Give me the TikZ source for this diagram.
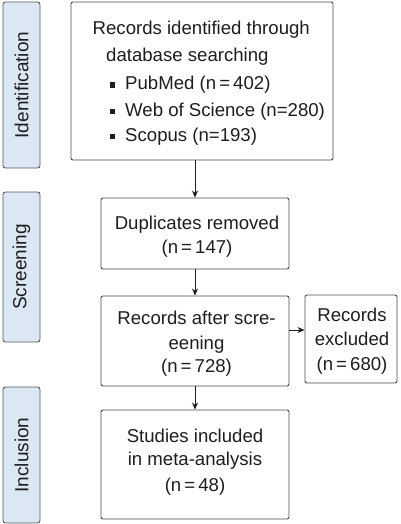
\documentclass[tikz,border=0pt]{standalone}
\usepackage{fontspec}
\setmainfont{Liberation Sans}
\usetikzlibrary{arrows.meta}
\definecolor{sideblue}{HTML}{DCE7F4}
\definecolor{ink}{HTML}{1E1E1E}
\begin{document}
\begin{tikzpicture}[x=1pt,y=-1pt,
  box/.style={draw=black!70, line width=0.9pt, rounded corners=2pt, fill=white, inner sep=0pt},
  side/.style={draw=black!65, fill=sideblue, line width=0.9pt, rounded corners=2.5pt, inner sep=0pt},
  txt/.style={font=\fontsize{18.6}{24}\selectfont, text=ink, inner sep=0pt},
  lbl/.style={font=\fontsize{19}{24}\selectfont, text=ink, inner sep=0pt},
  bul/.style={fill=ink, minimum size=5.5pt, inner sep=0pt},
  arr/.style={-{Stealth[length=7pt,width=6pt]}, line width=0.8pt, draw=ink}]
\useasboundingbox (0,0) rectangle (400,524);
% side bars
\node[side, minimum width=37pt, minimum height=166pt] (sid) at (21.5,85) {};
\node[lbl, rotate=90] (sidt) at (sid) {Identification};
\node[side, minimum width=37pt, minimum height=150pt] (scr) at (21.5,267) {};
\node[lbl, rotate=90] (scrt) at (scr) {Screening};
\node[side, minimum width=37pt, minimum height=136pt] (inc) at (21.5,455) {};
\node[lbl, rotate=90] (inct) at (inc) {Inclusion};
% box 1
\node[box, minimum width=262pt, minimum height=158pt] (b1) at (202,81) {};
\node[txt, anchor=base west] (l1) at (92.5,35) {Records identified through};
\node[txt, anchor=base west] (l2) at (106,61.7) {database searching};
\node[bul] (p1) at (112.7,85) {};
\node[txt, anchor=base west] (l3) at (125,90) {PubMed (n\,=\,402)};
\node[bul] (p2) at (112.7,111.7) {};
\node[txt, anchor=base west] (l4) at (125,116.7) {Web of Science (n=280)};
\node[bul] (p3) at (112.7,136.7) {};
\node[txt, anchor=base west] (l5) at (125,141.7) {Scopus (n=193)};
% box 2
\node[box, minimum width=188pt, minimum height=71pt] (b2) at (195,233.5) {};
\node[txt, anchor=base] (t2a) at (197,229.7) {Duplicates removed};
\node[txt, anchor=base] (t2b) at (197,253.7) {(n\,=\,147)};
% box 3
\node[box, minimum width=188pt, minimum height=90pt] (b3) at (195,341) {};
\node[txt, anchor=base] (t3a) at (196.5,324.3) {Records after scre-};
\node[txt, anchor=base] (t3b) at (196.5,349.3) {eening};
\node[txt, anchor=base] (t3c) at (196.5,372.7) {(n\,=\,728)};
% excluded
\node[box, minimum width=92pt, minimum height=88pt] (ex) at (351,339) {};
\node[txt, anchor=base] (tea) at (352,321.7) {Records};
\node[txt, anchor=base] (teb) at (352,345) {excluded};
\node[txt, anchor=base] (tec) at (352,370) {(n\,=\,680)};
% box 4
\node[box, minimum width=188pt, minimum height=109pt] (b4) at (195,464.5) {};
\node[txt, anchor=base] (t4a) at (195,442.3) {Studies included};
\node[txt, anchor=base] (t4b) at (195,465) {in meta-analysis};
\node[txt, anchor=base] (t4c) at (195,491.7) {(n\,=\,48)};
% arrows
\draw[arr] (b1.south -| b2.north) -- (b2.north);
\draw[arr] (b2.south) -- (b3.north);
\draw[arr] (b3.south) -- (b4.north);
\coordinate (a0) at ([yshift=11pt]b3.east);
\draw[arr] (a0) -- (a0 -| ex.west);
\end{tikzpicture}
\end{document}
